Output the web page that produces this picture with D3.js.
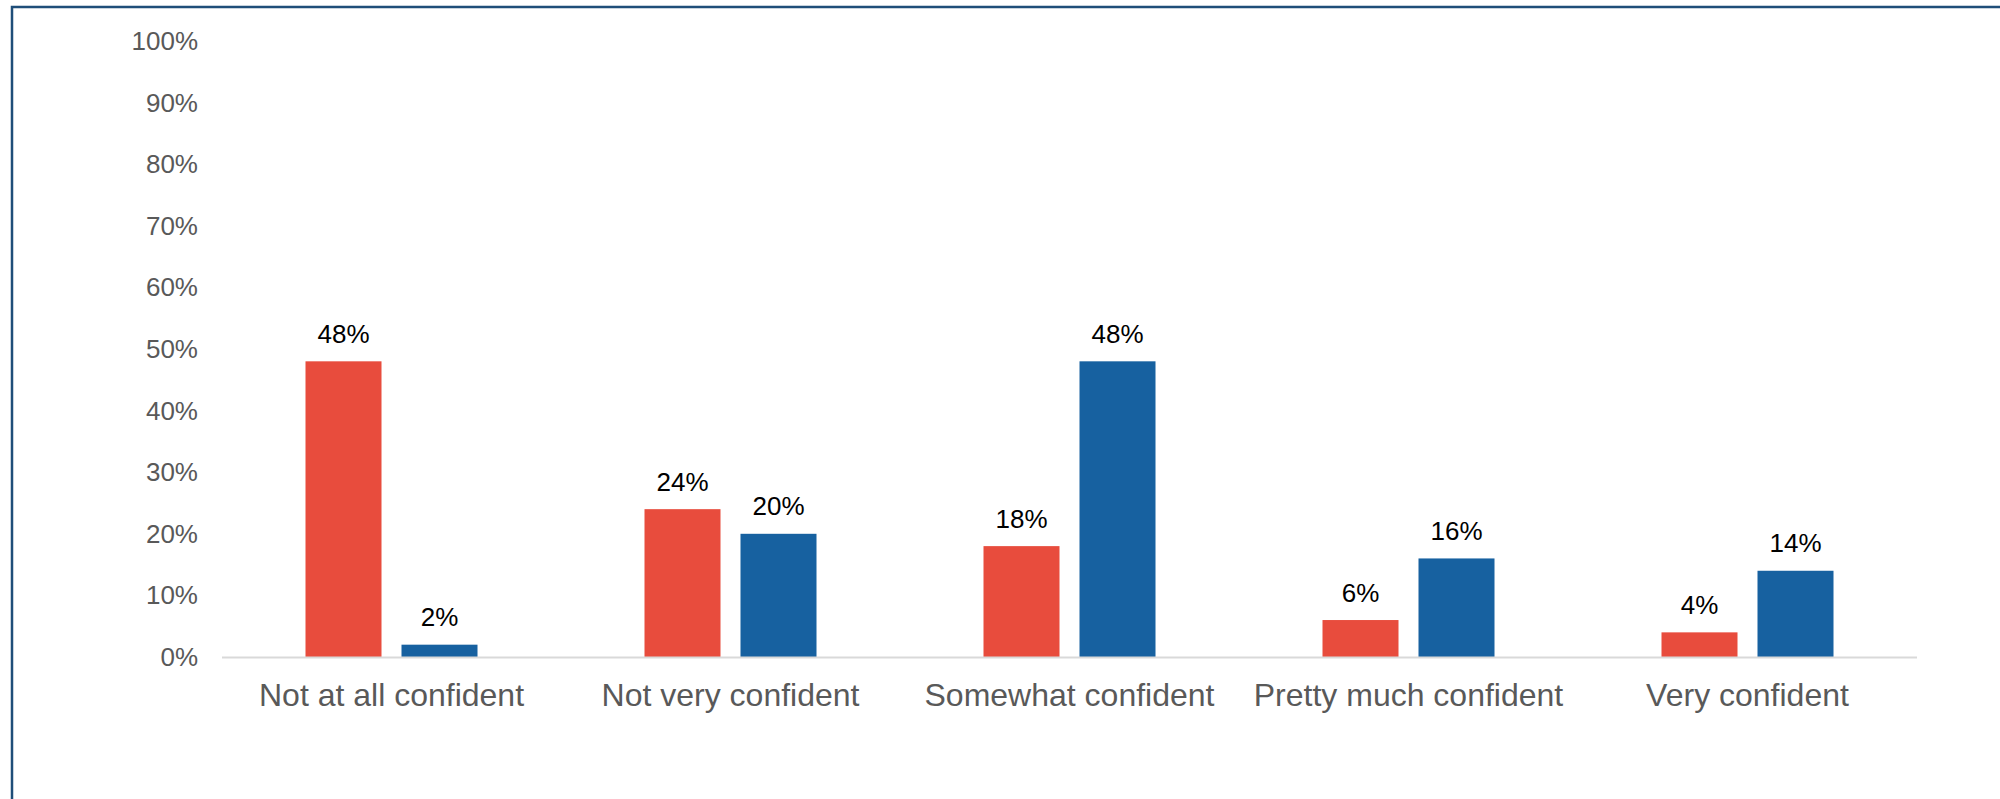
<!DOCTYPE html>
<html>
<head>
<meta charset="utf-8">
<script src="https://cdn.jsdelivr.net/npm/d3@7"></script>
<style>
  html, body { margin: 0; padding: 0; background: #fff; }
  svg { display: block; font-family: "Liberation Sans", Arial, sans-serif; }
</style>
</head>
<body>
<svg id="chart" width="2000" height="799"></svg>
<script>
const categories = ["Not at all confident", "Not very confident", "Somewhat confident", "Pretty much confident", "Very confident"];
const seriesRed = [48, 24, 18, 6, 4];
const seriesBlue = [2, 20, 48, 16, 14];
const yTicks = [0, 10, 20, 30, 40, 50, 60, 70, 80, 90, 100];

const svg = d3.select("#chart");
const W = 2000, H = 799;
const plotLeft = 222, plotRight = 1917, plotTop = 41, plotBottom = 657;

// frame border
svg.append("path")
  .attr("d", `M12,${H + 5} L12,7 L${W + 5},7`)
  .attr("fill", "none").attr("stroke", "#1F4E79").attr("stroke-width", 2.5);

const x = d3.scaleBand().domain(categories).range([plotLeft, plotRight]).padding(0);
const y = d3.scaleLinear().domain([0, 100]).range([plotBottom, plotTop]);

const barW = 76, gap = 20;

// y tick labels
svg.append("g").selectAll("text").data(yTicks).join("text")
  .attr("x", 198).attr("y", d => y(d) + 9)
  .attr("text-anchor", "end")
  .attr("font-size", 26).attr("fill", "#595959")
  .text(d => d + "%");

const groups = categories.map((c, i) => ({ c, r: seriesRed[i], b: seriesBlue[i] }));

const bars = [];
groups.forEach(g => {
  const cx = x(g.c) + x.bandwidth() / 2;
  bars.push({ x0: cx - gap / 2 - barW, v: g.r, color: "#E84C3D" });
  bars.push({ x0: cx + gap / 2, v: g.b, color: "#1761A0" });
});

svg.append("g").selectAll("rect").data(bars).join("rect")
  .attr("x", d => d.x0).attr("width", barW)
  .attr("y", d => y(d.v)).attr("height", d => y(0) - y(d.v))
  .attr("fill", d => d.color);

// axis line
svg.append("line")
  .attr("x1", plotLeft).attr("x2", plotRight).attr("y1", y(0) + 0.5).attr("y2", y(0) + 0.5)
  .attr("stroke", "#D9D9D9").attr("stroke-width", 2);

// data labels
svg.append("g").selectAll("text").data(bars).join("text")
  .attr("x", d => d.x0 + barW / 2).attr("y", d => y(d.v) - 18.5)
  .attr("text-anchor", "middle")
  .attr("font-size", 26).attr("fill", "#000")
  .text(d => d.v + "%");

// category labels
svg.append("g").selectAll("text").data(categories).join("text")
  .attr("x", d => x(d) + x.bandwidth() / 2).attr("y", plotBottom + 49)
  .attr("text-anchor", "middle")
  .attr("font-size", 32).attr("fill", "#595959")
  .text(d => d);
</script>
</body>
</html>
